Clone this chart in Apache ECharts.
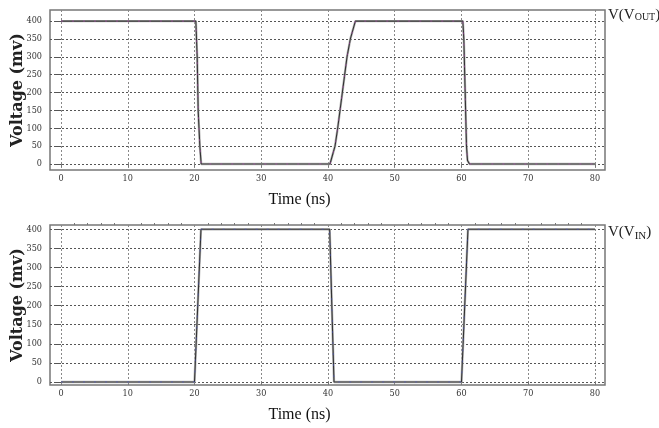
<!DOCTYPE html>
<html><head><meta charset="utf-8">
<script src="https://cdn.jsdelivr.net/npm/echarts@6/dist/echarts.min.js"></script>
<style>html,body{margin:0;padding:0;background:#fff}#c{width:659px;height:428px}</style>
</head><body><div id="c"></div>
<script>
// Output voltage V(VOUT): time (ns) / voltage (mV)
const timeOut = [0, 20.2, 20.4, 20.55, 20.8, 21.0, 40.3, 41.05, 41.45, 41.8, 42.15, 42.5, 42.85, 43.35, 44.1, 60.2, 60.35, 60.75, 60.9, 61.2, 80];
const vOut    = [400, 400, 300, 150, 50, 0, 0, 50, 100, 150, 200, 250, 300, 350, 400, 400, 350, 50, 10, 0, 0];
// Input voltage V(VIN)
const timeIn = [0, 20.0, 20.97, 40.25, 40.9, 60.0, 60.97, 80];
const vIn    = [0, 0, 400, 400, 0, 0, 400, 400];
// tick labels
const xTicks = [0, 10, 20, 30, 40, 50, 60, 70, 80];
const yTicks = [0, 50, 100, 150, 200, 250, 300, 350, 400];
const xMinor = [2,4,6,8,12,14,16,18,22,24,26,28,32,34,36,38,42,44,46,48,52,54,56,58,62,64,66,68,72,74,76,78];

const pairs = (t, v) => t.map((x, i) => [x, v[i]]);
const tickFont = {fontFamily: "'Liberation Sans Narrow','DejaVu Serif Condensed','Liberation Serif',serif", fontSize: 9, color: '#333'};

function xAxis(gi) {
  return {
    type: 'value', gridIndex: gi, min: -1.65, max: 81.5,
    name: 'Time (ns)', nameLocation: 'middle', nameGap: 22, nameMoveOverlap: false,
    nameTextStyle: {fontFamily: "'Liberation Serif',serif", fontSize: 16, color: '#111', padding: [0, 56, 0, 0]},
    axisLine: {show: false},
    axisTick: {show: true, customValues: xTicks, length: 3, lineStyle: {color: '#777'}},
    axisLabel: Object.assign({customValues: xTicks, margin: 4}, tickFont),
    splitLine: {show: true, lineStyle: {color: '#888', type: [2, 2], width: 1}}
  };
}
function yAxis(gi, mn, mx) {
  return {
    type: 'value', gridIndex: gi, min: mn, max: mx,
    name: 'Voltage (mv)', nameLocation: 'middle', nameGap: 24, nameRotate: 90, nameMoveOverlap: false,
    nameTextStyle: {fontFamily: "'DejaVu Serif',serif", fontWeight: 'bold', fontSize: 16, color: '#222'},
    axisLine: {show: false},
    axisTick: {show: true, customValues: yTicks, length: 5, lineStyle: {color: '#555'}},
    axisLabel: Object.assign({customValues: yTicks, margin: 8}, tickFont),
    splitLine: {show: true, lineStyle: {color: '#555', type: [2, 2], width: 1}}
  };
}
function layers(gi, data, accent) {
  return [
    {type: 'line', xAxisIndex: gi, yAxisIndex: gi, data: data, symbol: 'none', silent: true,
     lineStyle: {color: '#b8b8b8', width: 2.4}},
    {type: 'line', xAxisIndex: gi, yAxisIndex: gi, data: data, symbol: 'none', silent: true,
     lineStyle: {color: '#333', width: 1.1}},
    {type: 'line', xAxisIndex: gi, yAxisIndex: gi, data: data, symbol: 'none', silent: true,
     lineStyle: {color: accent, width: 1, type: [2, 9], opacity: 0.45}}
  ];
}
const serif = "'Liberation Serif',serif";
const chart = echarts.init(document.getElementById('c'), null, {renderer: 'canvas'});
chart.setOption({
  animation: false,
  backgroundColor: '#fff',
  title: [
    {left: 608, top: 8, padding: 0, text: '{a|V(V}{b|OUT}{a|)}',
     textStyle: {fontWeight: 'normal', rich: {a: {fontFamily: serif, fontSize: 15, color: '#222'},
                        b: {fontFamily: serif, fontSize: 10, color: '#222', padding: [4, 0, 0, 0]}}}},
    {left: 608, top: 223, padding: 0, text: '{a|V(V}{b|IN}{a|)}',
     textStyle: {fontWeight: 'normal', rich: {a: {fontFamily: serif, fontSize: 15, color: '#222'},
                        b: {fontFamily: serif, fontSize: 11, color: '#222', padding: [8, 0, 0, 0]}}}}
  ],
  grid: [
    {left: 50, top: 10, width: 555, height: 160, outerBoundsMode: 'none', containLabel: false, show: true, borderColor: '#777', borderWidth: 1.5, backgroundColor: '#fff'},
    {left: 50, top: 225, width: 555, height: 160, outerBoundsMode: 'none', containLabel: false, show: true, borderColor: '#777', borderWidth: 1.5, backgroundColor: '#fff'}
  ],
  xAxis: [
    xAxis(0),
    xAxis(1),
    {type: 'value', gridIndex: 1, min: -1.65, max: 81.5, axisLine: {show: false}, axisLabel: {show: false},
     splitLine: {show: false}, axisTick: {show: true, customValues: xMinor, length: 2, lineStyle: {color: '#777'}}}
  ],
  yAxis: [yAxis(0, -16.8, 431), yAxis(1, -8, 411)],
  series: [].concat(layers(0, pairs(timeOut, vOut), '#d040d0'), layers(1, pairs(timeIn, vIn), '#4050e0'))
});
</script></body></html>
